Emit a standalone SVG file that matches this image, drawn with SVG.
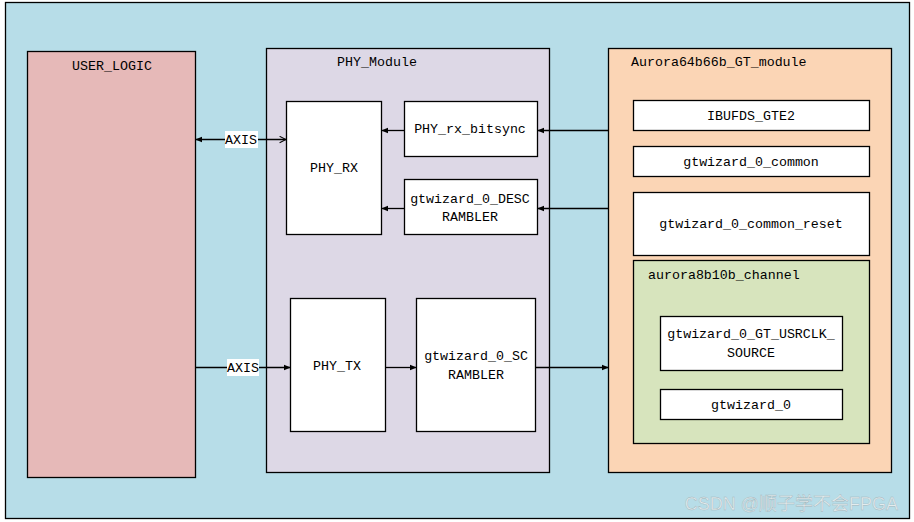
<svg xmlns="http://www.w3.org/2000/svg" width="914" height="522" viewBox="0 0 914 522">
<defs>
<style>
.b{stroke:#000;stroke-width:1.3}
.w{fill:#fff}
text{font-family:"Liberation Mono","DejaVu Sans Mono",monospace;font-size:13.3px;fill:#000}
.c{text-anchor:middle}
.l{stroke:#000;stroke-width:1.3;fill:none}
.lbl{fill:#fff}
</style>
<marker id="af" viewBox="0 0 10 10" refX="9" refY="5" markerWidth="7" markerHeight="7" orient="auto-start-reverse" markerUnits="userSpaceOnUse"><path d="M0,1 L10,5 L0,9 Z" fill="#000"/></marker>
<marker id="ao" viewBox="0 0 10 10" refX="9" refY="5" markerWidth="8" markerHeight="8" orient="auto" markerUnits="userSpaceOnUse"><path d="M1,1 L9,5 L1,9" fill="none" stroke="#000" stroke-width="1.3"/></marker>
</defs>
<rect x="5.5" y="2.5" width="904" height="516" fill="#b7dde8" class="b"/>
<g id="user_logic">
<rect x="27.5" y="51.5" width="168" height="426" fill="#e6b9b8" class="b"/>
<text x="112" y="70" class="c">USER_LOGIC</text>
</g>
<g id="phy_module">
<rect x="266.5" y="48.5" width="283" height="424" fill="#ddd8e6" class="b"/>
<text x="377" y="66" class="c">PHY_Module</text>
</g>
<g id="phy_rx">
<rect x="286.5" y="101.5" width="95" height="133" class="b w"/>
<text x="334" y="172" class="c">PHY_RX</text>
</g>
<g id="phy_rx_bitsync">
<rect x="404.5" y="101.5" width="133" height="55" class="b w"/>
<text x="470" y="133" class="c">PHY_rx_bitsync</text>
</g>
<g id="descrambler">
<rect x="404.5" y="179.5" width="133" height="55" class="b w"/>
<text x="470" y="203" class="c">gtwizard_0_DESC</text>
<text x="470" y="221" class="c">RAMBLER</text>
</g>
<g id="phy_tx">
<rect x="290.5" y="298.5" width="95" height="133" class="b w"/>
<text x="337" y="370" class="c">PHY_TX</text>
</g>
<g id="scrambler">
<rect x="416.5" y="298.5" width="119" height="133" class="b w"/>
<text x="476" y="360" class="c">gtwizard_0_SC</text>
<text x="476" y="379" class="c">RAMBLER</text>
</g>
<g id="aurora_module">
<rect x="608.5" y="48.5" width="283" height="424" fill="#fbd5b5" class="b"/>
<text x="631" y="66">Aurora64b66b_GT_module</text>
</g>
<g id="ibufds">
<rect x="633.5" y="100.5" width="236" height="30" class="b w"/>
<text x="751" y="120" class="c">IBUFDS_GTE2</text>
</g>
<g id="gt_common">
<rect x="633.5" y="146.5" width="236" height="30" class="b w"/>
<text x="751" y="166" class="c">gtwizard_0_common</text>
</g>
<g id="gt_common_reset">
<rect x="633.5" y="192.5" width="236" height="63" class="b w"/>
<text x="751" y="228" class="c">gtwizard_0_common_reset</text>
</g>
<g id="aurora_channel">
<rect x="633.5" y="260.5" width="236" height="183" fill="#d7e4bd" class="b"/>
<text x="648" y="279">aurora8b10b_channel</text>
</g>
<g id="usrclk_source">
<rect x="660.5" y="316.5" width="182" height="54" class="b w"/>
<text x="751" y="338" class="c">gtwizard_0_GT_USRCLK_</text>
<text x="751" y="357" class="c">SOURCE</text>
</g>
<g id="gtwizard_0">
<rect x="660.5" y="389.5" width="182" height="30" class="b w"/>
<text x="751" y="409" class="c">gtwizard_0</text>
</g>
<g id="connectors">
<line x1="196" y1="139.5" x2="286" y2="139.5" class="l" marker-start="url(#af)" marker-end="url(#ao)"/>
<line x1="608" y1="130.5" x2="538" y2="130.5" class="l" marker-end="url(#af)"/>
<line x1="404" y1="130.5" x2="382" y2="130.5" class="l" marker-end="url(#af)"/>
<line x1="608" y1="208.5" x2="538" y2="208.5" class="l" marker-end="url(#af)"/>
<line x1="404" y1="208.5" x2="382" y2="208.5" class="l" marker-end="url(#af)"/>
<line x1="196" y1="367.5" x2="290" y2="367.5" class="l" marker-end="url(#af)"/>
<line x1="386" y1="367.5" x2="416" y2="367.5" class="l" marker-end="url(#af)"/>
<line x1="536" y1="367.5" x2="608" y2="367.5" class="l" marker-end="url(#af)"/>
<rect x="225" y="131" width="33" height="17" class="lbl"/>
<text x="241" y="144" class="c">AXIS</text>
<rect x="227" y="359" width="32" height="17" class="lbl"/>
<text x="243" y="372" class="c">AXIS</text>
</g>
<text x="898" y="510" style="font-family:'Liberation Sans','Noto Sans CJK SC',sans-serif;font-size:18px;fill:#e4ecee;stroke:#9fb4ba;stroke-width:0.4;text-anchor:end">CSDN @顺子学不会FPGA</text>
</svg>
